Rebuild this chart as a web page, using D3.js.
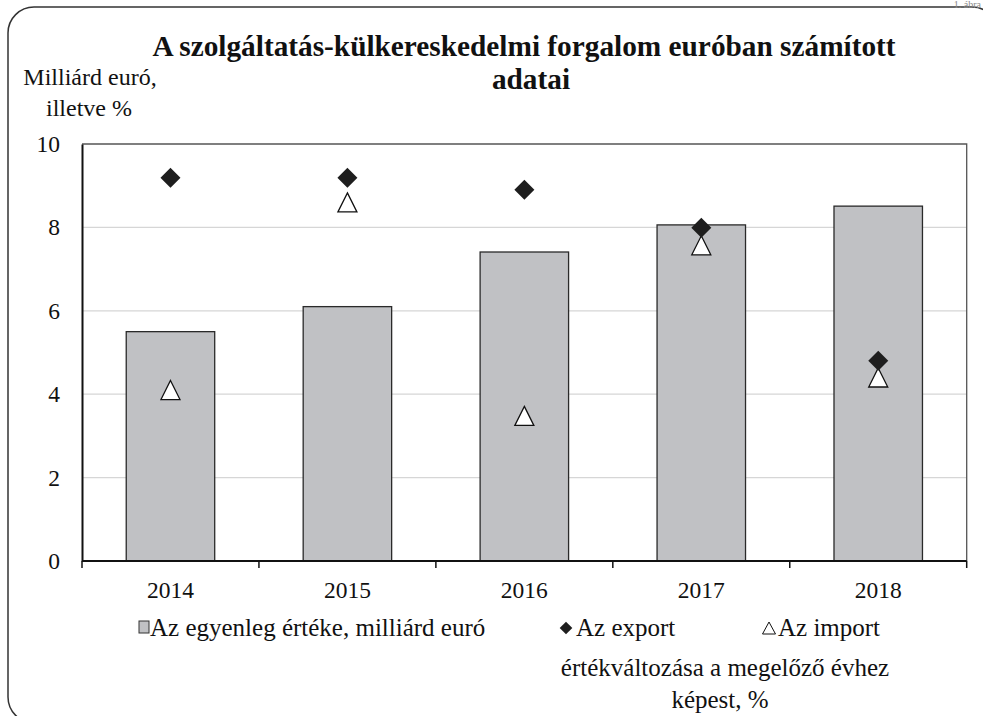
<!DOCTYPE html>
<html>
<head>
<meta charset="utf-8">
<script src="https://cdn.jsdelivr.net/npm/d3@7"></script>
<style>
  body{margin:0;background:#fff;}
  svg{display:block;font-family:"Liberation Serif","DejaVu Serif",serif;}
</style>
</head>
<body>
<div id="chart"></div>
<script>
// data
var years = ["2014","2015","2016","2017","2018"];
var balance = [5.5, 6.1, 7.41, 8.06, 8.51];
var exportChange = [9.19, 9.19, 8.9, 7.99, 4.8];
var importChange = [4.1, 8.6, 3.48, 7.57, 4.4];
var yTicks = [0, 2, 4, 6, 8, 10];

var W = 983, H = 716,
    m = {left:82, right:W-966.7, top:144, bottom:H-561},
    FONT = "Liberation Serif, serif";

var svg = d3.select("#chart").append("svg")
    .attr("width", W)
    .attr("height", H);

// outer rounded frame (runs off the right and bottom edge)
svg.append("rect")
    .attr("x", 8).attr("y", 7)
    .attr("width", 990).attr("height", 716)
    .attr("rx", 26).attr("ry", 26)
    .attr("fill", "none")
    .attr("stroke", "#333")
    .attr("stroke-width", 1.5);

svg.append("text")
    .attr("x", 981).attr("y", 8)
    .attr("text-anchor", "end")
    .attr("font-size", 10)
    .attr("fill", "#888")
    .text("1. ábra");

var x = d3.scaleBand()
    .domain(years)
    .range([m.left, W - m.right])
    .paddingInner(0.5)
    .paddingOuter(0.25);

var xb = d3.scaleBand().domain(years).range([m.left, W - m.right]);

var y = d3.scaleLinear()
    .domain([0, 10])
    .range([H - m.bottom, m.top]);

// triangle marker centred on its bounding box, like the spreadsheet one
function triangle(w, h){
    return {draw: function(ctx){
        ctx.moveTo(0, -h/2);
        ctx.lineTo(w/2, h/2);
        ctx.lineTo(-w/2, h/2);
        ctx.closePath();
    }};
}

// gridlines
svg.append("g")
    .selectAll("line")
    .data(yTicks.filter(function(d){ return d > 0 && d < 10; }))
  .enter().append("line")
    .attr("x1", m.left).attr("x2", W - m.right)
    .attr("y1", function(d){ return y(d); })
    .attr("y2", function(d){ return y(d); })
    .attr("stroke", "#d6d6d6")
    .attr("stroke-width", 1.2);

// plot area frame top/right
svg.append("path")
    .attr("d", "M" + m.left + "," + y(10) + "H" + (W - m.right) + "V" + y(0))
    .attr("fill", "none")
    .attr("stroke", "#555")
    .attr("stroke-width", 1.3);

// bars
svg.append("g")
    .selectAll("rect")
    .data(balance)
  .enter().append("rect")
    .attr("x", function(d,i){ return x(years[i]); })
    .attr("width", x.bandwidth())
    .attr("y", function(d){ return y(d); })
    .attr("height", function(d){ return y(0) - y(d); })
    .attr("fill", "#c0c1c4")
    .attr("stroke", "#2a2a2a")
    .attr("stroke-width", 1.3);

// y axis
var yAxis = svg.append("g")
    .attr("transform", "translate(" + m.left + ",0)")
    .call(d3.axisLeft(y).tickValues(yTicks).tickSize(0).tickPadding(22));
yAxis.select(".domain").attr("stroke", "#111").attr("stroke-width", 2);
yAxis.selectAll("text")
    .attr("font-family", FONT)
    .attr("font-size", 23.5)
    .attr("fill", "#111");

// x axis, ticks sit on category boundaries
var xAxis = svg.append("g")
    .attr("transform", "translate(0," + y(0) + ")");
xAxis.append("line")
    .attr("x1", m.left).attr("x2", W - m.right)
    .attr("stroke", "#111").attr("stroke-width", 2);
xAxis.selectAll("line.tick")
    .data(years.concat(["end"]))
  .enter().append("line")
    .attr("class", "tick")
    .attr("x1", function(d,i){ return i < years.length ? xb(d) : W - m.right; })
    .attr("x2", function(d,i){ return i < years.length ? xb(d) : W - m.right; })
    .attr("y1", 0).attr("y2", 7)
    .attr("stroke", "#111").attr("stroke-width", 1.5);
xAxis.selectAll("text")
    .data(years)
  .enter().append("text")
    .attr("x", function(d){ return xb(d) + xb.bandwidth() / 2; })
    .attr("y", 37)
    .attr("text-anchor", "middle")
    .attr("font-size", 23.5)
    .attr("fill", "#111")
    .text(function(d){ return d; });

// markers
var diamond = d3.symbol().type(d3.symbolSquare).size(200);
var tri = d3.symbol().type(triangle(19, 19));

svg.append("g")
    .selectAll("path")
    .data(importChange)
  .enter().append("path")
    .attr("d", tri)
    .attr("transform", function(d,i){
        return "translate(" + (xb(years[i]) + xb.bandwidth()/2) + "," + y(d) + ")";
    })
    .attr("fill", "#fff")
    .attr("stroke", "#111")
    .attr("stroke-width", 1.3);

svg.append("g")
    .selectAll("path")
    .data(exportChange)
  .enter().append("path")
    .attr("d", diamond)
    .attr("transform", function(d,i){
        return "translate(" + (xb(years[i]) + xb.bandwidth()/2) + "," + y(d) + ") rotate(45)";
    })
    .attr("fill", "#1e1e1e");

// title
var title = svg.append("text")
    .attr("text-anchor", "middle")
    .attr("font-size", 29.3)
    .attr("font-weight", "bold")
    .attr("fill", "#111");
title.append("tspan").attr("x", 524).attr("y", 56)
    .text("A szolgáltatás-külkereskedelmi forgalom euróban számított");
title.append("tspan").attr("x", 531).attr("y", 89)
    .text("adatai");

// y axis label
var ylab = svg.append("text")
    .attr("text-anchor", "middle")
    .attr("font-size", 24)
    .attr("fill", "#111");
ylab.append("tspan").attr("x", 90).attr("y", 85).text("Milliárd euró,");
ylab.append("tspan").attr("x", 89).attr("y", 116).text("illetve %");

// legend
var lg = svg.append("g").attr("font-size", 25).attr("fill", "#111");
lg.append("rect")
    .attr("x", 139).attr("y", 621).attr("width", 10).attr("height", 12)
    .attr("fill", "#c0c1c4").attr("stroke", "#333").attr("stroke-width", 1);
lg.append("text").attr("x", 150).attr("y", 636)
    .text("Az egyenleg értéke, milliárd euró");
lg.append("path")
    .attr("d", d3.symbol().type(d3.symbolSquare).size(80))
    .attr("transform", "translate(566,628) rotate(45)")
    .attr("fill", "#1e1e1e");
lg.append("text").attr("x", 576).attr("y", 636).text("Az export");
lg.append("path")
    .attr("d", d3.symbol().type(triangle(13, 12)))
    .attr("transform", "translate(769,628)")
    .attr("fill", "#fff").attr("stroke", "#111").attr("stroke-width", 1);
lg.append("text").attr("x", 778).attr("y", 636).text("Az import");
lg.append("text").attr("x", 725).attr("y", 676).attr("text-anchor", "middle")
    .text("értékváltozása a megelőző évhez");
lg.append("text").attr("x", 720).attr("y", 708).attr("text-anchor", "middle")
    .text("képest, %");
</script>
</body>
</html>
